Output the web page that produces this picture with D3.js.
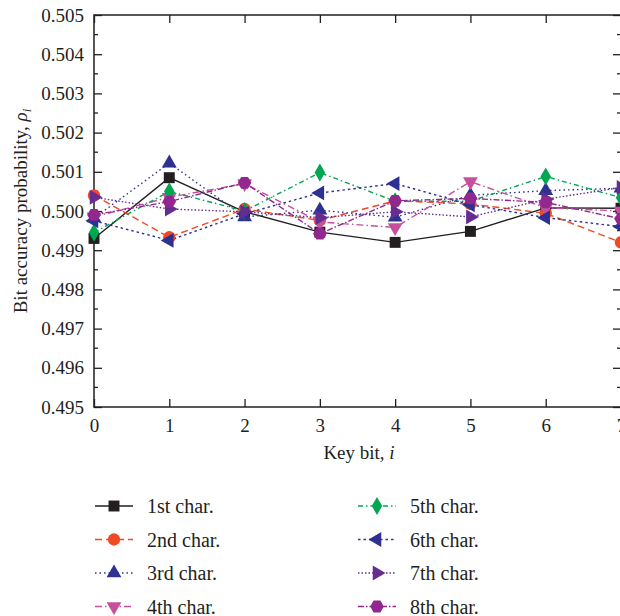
<!DOCTYPE html>
<html>
<head>
<meta charset="utf-8">
<script src="https://cdn.jsdelivr.net/npm/d3@7"></script>
<style>
  body { margin: 0; background: #fff; }
  text { font-family: "Liberation Serif", "DejaVu Serif", serif; fill: #231f20; }
</style>
</head>
<body>
<div id="chart"></div>
<script>
var width = 620, height = 616;
var margin = ({top: 15, right: -1, bottom: 209, left: 94});

// key bit positions
var keyBits = [0, 1, 2, 3, 4, 5, 6, 7];
var yTicks = [0.495, 0.496, 0.497, 0.498, 0.499, 0.500, 0.501, 0.502, 0.503, 0.504, 0.505];

// bit accuracy probability per character
var char1 = [0.49930, 0.50085, 0.49998, 0.49946, 0.49920, 0.49948, 0.50008, 0.50007];
var char2 = [0.50040, 0.49933, 0.50005, 0.49976, 0.50026, 0.50018, 0.49994, 0.49920];
var char3 = [0.49982, 0.50122, 0.49985, 0.50002, 0.49984, 0.50040, 0.50052, 0.50058];
var char4 = [0.49985, 0.50035, 0.50070, 0.49972, 0.49958, 0.50075, 0.50008, 0.50000];
var char5 = [0.49945, 0.50050, 0.50000, 0.50098, 0.50025, 0.50025, 0.50088, 0.50034];
var char6 = [0.49975, 0.49925, 0.49993, 0.50046, 0.50070, 0.50016, 0.49983, 0.49960];
var char7 = [0.50035, 0.50005, 0.49998, 0.49983, 0.49998, 0.49985, 0.50030, 0.50060];
var char8 = [0.49990, 0.50024, 0.50072, 0.49942, 0.50026, 0.50032, 0.50022, 0.49980];

var names = ["1st char.", "2nd char.", "3rd char.", "4th char.", "5th char.", "6th char.", "7th char.", "8th char."];

// hexagon isn't a built-in d3 symbol
var symbolHexagon = {
  draw: function (context, size) {
    var r = Math.sqrt(size / (1.5 * Math.sqrt(3)));
    for (var k = 0; k < 6; k++) {
      var a = Math.PI / 3 * k;
      var px = r * Math.cos(a), py = r * Math.sin(a);
      if (k === 0) context.moveTo(px, py); else context.lineTo(px, py);
    }
    context.closePath();
  }
};

var series = [
  {name: names[0], values: char1, color: "#231f20", dash: null, sym: d3.symbolSquare, size: 120, rot: 0},
  {name: names[1], values: char2, color: "#f04923", dash: "7,4", sym: d3.symbolCircle, size: 120, rot: 0},
  {name: names[2], values: char3, color: "#2e3192", dash: "1.5,3", sym: d3.symbolTriangle, size: 95, rot: 0},
  {name: names[3], values: char4, color: "#c6509c", dash: "7,3,1.5,3", sym: d3.symbolTriangle, size: 95, rot: 180},
  {name: names[4], values: char5, color: "#00a650", dash: "5,3,1.5,3", sym: d3.symbolDiamond, size: 95, rot: 0},
  {name: names[5], values: char6, color: "#2e3192", dash: "2.5,3", sym: d3.symbolTriangle, size: 95, rot: -90},
  {name: names[6], values: char7, color: "#662d91", dash: "1.5,2", sym: d3.symbolTriangle, size: 95, rot: 90},
  {name: names[7], values: char8, color: "#92278f", dash: "6,2,1.5,2", sym: symbolHexagon, size: 120, rot: 0}
];

var plotRight = width - margin.right;
var plotBottom = height - margin.bottom;

var x = d3.scaleLinear()
    .domain([0, 7])
    .range([margin.left, plotRight]);

var y = d3.scaleLinear()
    .domain([0.495, 0.505])
    .range([plotBottom, margin.top]);

const svg = d3.select("#chart")
    .append("svg")
    .attr("width", width)
    .attr("height", height)
    .attr("viewBox", [0, 0, width, height]);

// axes: ticks pointing inward, mirrored on top/right
var axisColor = "#231f20";
svg.append("g")
    .attr("transform", `translate(0,${plotBottom})`)
    .call(d3.axisBottom(x).tickValues(keyBits).tickSize(-8).tickPadding(12).tickFormat(d3.format("d")).tickSizeOuter(0))
    .call(g => g.select(".domain").remove());

svg.append("g")
    .attr("transform", `translate(0,${margin.top})`)
    .call(d3.axisTop(x).tickValues(keyBits).tickSize(-8).tickFormat("").tickSizeOuter(0))
    .call(g => g.select(".domain").remove());

svg.append("g")
    .attr("transform", `translate(${margin.left},0)`)
    .call(d3.axisLeft(y).tickValues(yTicks).tickSize(-8).tickPadding(10).tickFormat(d3.format(".3f")).tickSizeOuter(0))
    .call(g => g.select(".domain").remove());

svg.append("g")
    .attr("transform", `translate(${plotRight},0)`)
    .call(d3.axisRight(y).tickValues(yTicks).tickSize(-8).tickFormat("").tickSizeOuter(0))
    .call(g => g.select(".domain").remove());

// minor ticks on y
var minor = d3.range(0.4955, 0.505, 0.001);
svg.append("g")
    .selectAll("line")
    .data(minor)
    .join("line")
      .attr("x1", margin.left).attr("x2", margin.left + 4)
      .attr("y1", d => y(d)).attr("y2", d => y(d));
svg.append("g")
    .selectAll("line")
    .data(minor)
    .join("line")
      .attr("x1", plotRight).attr("x2", plotRight - 4)
      .attr("y1", d => y(d)).attr("y2", d => y(d));

svg.selectAll(".tick line, g > line").attr("stroke", axisColor).attr("stroke-width", 1.3);
svg.selectAll(".tick text").attr("font-size", "19px").attr("fill", axisColor);

svg.append("rect")
    .attr("x", margin.left)
    .attr("y", margin.top)
    .attr("width", plotRight - margin.left)
    .attr("height", plotBottom - margin.top)
    .attr("fill", "none")
    .attr("stroke", axisColor)
    .attr("stroke-width", 1.5);

// lines
var line = d3.line()
    .x((d, i) => x(keyBits[i]))
    .y(d => y(d));

var plot = svg.append("g");

series.forEach(function (s) {
  plot.append("path")
      .datum(s.values)
      .attr("fill", "none")
      .attr("stroke", s.color)
      .attr("stroke-width", 1.4)
      .attr("stroke-dasharray", s.dash)
      .attr("d", line);
});

series.forEach(function (s) {
  plot.append("g")
      .selectAll("path")
      .data(s.values)
      .join("path")
        .attr("transform", (d, i) => `translate(${x(keyBits[i])},${y(d)}) rotate(${s.rot})`)
        .attr("d", d3.symbol().type(s.sym).size(s.size))
        .attr("fill", s.color);
});

// axis titles
svg.append("text")
    .attr("x", (margin.left + width) / 2 + 2)
    .attr("y", 459)
    .attr("text-anchor", "middle")
    .attr("font-size", "19px")
    .text("Key bit, ")
    .append("tspan")
      .attr("font-style", "italic")
      .text("i");

var ylab = svg.append("text")
    .attr("transform", `translate(27,${(margin.top + plotBottom) / 2}) rotate(-90)`)
    .attr("text-anchor", "middle")
    .attr("font-size", "19px")
    .text("Bit accuracy probability, ");
ylab.append("tspan").attr("font-style", "italic").text("\u03c1");
ylab.append("tspan").attr("font-style", "italic").attr("font-size", "13px").attr("dy", 4).text("i");

// legend, two columns of four
var legend = svg.append("g")
    .selectAll("g")
    .data(series)
    .join("g")
      .attr("transform", (d, i) => `translate(${i < 4 ? 95 : 358},${506 + (i % 4) * 33.5})`);

legend.append("line")
    .attr("x1", 0).attr("x2", 38)
    .attr("stroke", d => d.color)
    .attr("stroke-width", 1.4)
    .attr("stroke-dasharray", d => d.dash);

legend.append("path")
    .attr("transform", d => `translate(19,0) rotate(${d.rot})`)
    .attr("d", d => d3.symbol().type(d.sym).size(d.size)())
    .attr("fill", d => d.color);

legend.append("text")
    .attr("x", 52)
    .attr("dy", "0.35em")
    .attr("font-size", "20px")
    .text(d => d.name);
</script>
</body>
</html>
